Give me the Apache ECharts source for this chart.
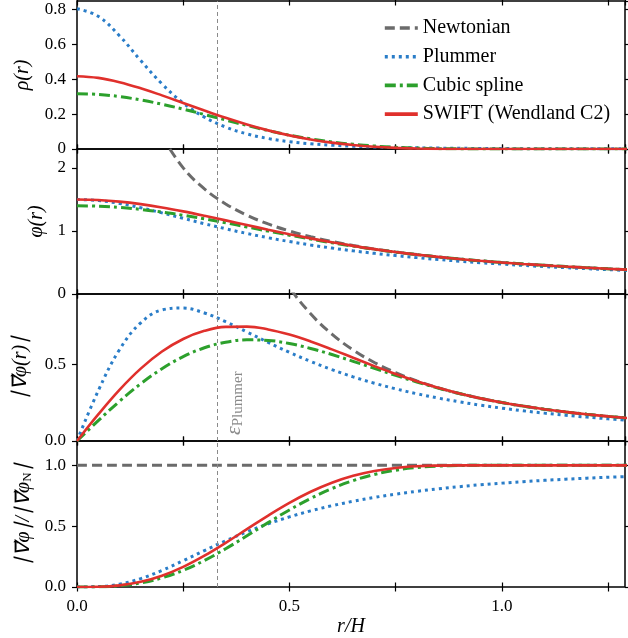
<!DOCTYPE html>
<html>
<head>
<meta charset="utf-8">
<script src="https://cdn.jsdelivr.net/npm/echarts@6/dist/echarts.min.js"></script>
<style>
  html, body { margin: 0; padding: 0; background: #fff; }
  #chart { width: 628px; height: 638px; }
</style>
</head>
<body>
<div id="chart"></div>
<script>
// r/H sample points
var xs = [0, 0.05, 0.1, 0.15, 0.2, 0.25, 0.3, 0.35, 0.4, 0.45, 0.5, 0.55, 0.6, 0.65,
  0.7, 0.75, 0.8, 0.85, 0.9, 0.95, 1.0, 1.05, 1.1, 1.15, 1.2, 1.25, 1.3];
var epsPlummer = 0.333;

// density
var rhoPlummer = [0.806, 0.762, 0.650, 0.508, 0.374, 0.264, 0.183, 0.126, 0.0866, 0.0602, 0.0423, 0.0301, 0.0218, 0.0159,
  0.0118, 0.0089, 0.0068, 0.0052, 0.0041, 0.0032, 0.0025, 0.0016, 0.0014, 0.0011, 0.0009, 0.0008, 0.0007];
var rhoSpline = [0.318, 0.3138, 0.3011, 0.2818, 0.2572, 0.2288, 0.1980, 0.1662, 0.1350, 0.1056, 0.0796, 0.0580, 0.0407, 0.0273,
  0.0172, 0.0099, 0.0051, 0.0021, 0.0006, 0.0001, 0, 0, 0, 0, 0, 0, 0];
var rhoWendland = [0.418, 0.4084, 0.3838, 0.3490, 0.3080, 0.2644, 0.2207, 0.1790, 0.1408, 0.1070, 0.0783, 0.0548, 0.0364, 0.0226,
  0.0129, 0.0065, 0.0028, 0.0009, 0.0002, 0, 0, 0, 0, 0, 0, 0, 0];

// potential
var phiNewton = [null, null, null, null, 2.5, 2.0, 1.667, 1.429, 1.25, 1.111, 1.0, 0.909, 0.833, 0.769,
  0.714, 0.667, 0.625, 0.588, 0.556, 0.526, 0.5, 0.476, 0.455, 0.435, 0.417, 0.4, 0.385];
var phiPlummer = [1.5, 1.4834, 1.4367, 1.3679, 1.2862, 1.2, 1.1149, 1.0345, 0.9603, 0.8928, 0.8321, 0.7775, 0.7285, 0.6845,
  0.6449, 0.6092, 0.5769, 0.5476, 0.5210, 0.4966, 0.4743, 0.4539, 0.4350, 0.4176, 0.4015, 0.3865, 0.3726];
var phiSpline = [1.4, 1.3934, 1.3738, 1.3422, 1.3000, 1.2490, 1.1911, 1.1286, 1.0634, 0.9978, 0.9333, 0.8715, 0.8133, 0.7593,
  0.7098, 0.6649, 0.6244, 0.5881, 0.5555, 0.5263, 0.5, 0.476, 0.455, 0.435, 0.417, 0.4, 0.385];
var phiWendland = [1.5, 1.4913, 1.4659, 1.4256, 1.3728, 1.3103, 1.2412, 1.1681, 1.0937, 1.0201, 0.9492, 0.8822, 0.8201, 0.7633,
  0.7119, 0.6659, 0.6248, 0.5882, 0.5556, 0.5263, 0.5, 0.476, 0.455, 0.435, 0.417, 0.4, 0.385];

// gradient of the potential
var gradNewton = [null, null, null, null, null, null, null, null, null, 1.2346, 1.0, 0.8264, 0.6944, 0.5917,
  0.5102, 0.4444, 0.3906, 0.3460, 0.3086, 0.2770, 0.25, 0.2268, 0.2066, 0.1890, 0.1736, 0.16, 0.1479];
var gradPlummer = [0, 0.3264, 0.5932, 0.7678, 0.8512, 0.8640, 0.8316, 0.7749, 0.7084, 0.6405, 0.5760, 0.5169, 0.4639, 0.4169,
  0.3755, 0.3391, 0.3072, 0.2792, 0.2545, 0.2327, 0.2135, 0.1963, 0.1811, 0.1675, 0.1553, 0.1443, 0.1345];
var gradSpline = [0, 0.1322, 0.2579, 0.3717, 0.4693, 0.5479, 0.6056, 0.6418, 0.6571, 0.6533, 0.6333, 0.6014, 0.5617, 0.5176,
  0.4718, 0.4266, 0.3836, 0.3438, 0.3082, 0.2770, 0.25, 0.2268, 0.2066, 0.1890, 0.1736, 0.16, 0.1479];
var gradWendland = [0, 0.1726, 0.3323, 0.4702, 0.5811, 0.6629, 0.7157, 0.7413, 0.7431, 0.7250, 0.6914, 0.6468, 0.5953, 0.5409,
  0.4866, 0.4349, 0.3875, 0.3453, 0.3085, 0.2770, 0.25, 0.2268, 0.2066, 0.1890, 0.1736, 0.16, 0.1479];

// ratio to the Newtonian gradient
var ratioNewton = [1, 1, 1, 1, 1, 1, 1, 1, 1, 1, 1, 1, 1, 1, 1, 1, 1, 1, 1, 1, 1, 1, 1, 1, 1, 1, 1];
var ratioPlummer = [0, 0.0033, 0.0237, 0.0691, 0.1362, 0.216, 0.2994, 0.3797, 0.4534, 0.5189, 0.5760, 0.6255, 0.6680, 0.7045,
  0.7360, 0.7631, 0.7865, 0.8069, 0.8246, 0.8402, 0.8538, 0.8659, 0.8765, 0.8860, 0.8945, 0.9021, 0.9089];
var ratioSpline = [0, 0.0013, 0.0103, 0.0335, 0.0751, 0.1370, 0.2180, 0.3145, 0.4205, 0.5292, 0.6333, 0.7277, 0.8089, 0.8747,
  0.9247, 0.9599, 0.9820, 0.9936, 0.9986, 1.0, 1, 1, 1, 1, 1, 1, 1];
var ratioWendland = [0, 0.0017, 0.0133, 0.0423, 0.0930, 0.1657, 0.2576, 0.3633, 0.4756, 0.5873, 0.6914, 0.7826, 0.8573, 0.9141,
  0.9537, 0.9785, 0.9919, 0.9978, 0.9997, 1.0, 1, 1, 1, 1, 1, 1, 1];

var names = ['Newtonian', 'Plummer', 'Cubic spline', 'SWIFT (Wendland C2)'];
var colors = ['#6b6b6b', '#2a7dc8', '#2ca02c', '#e0302c'];
var dashes = [[10, 5], [3, 4], [11, 4, 3, 4], 'solid'];
var widths = [3, 3, 3, 2.6];

var yMax = [0.85, 2.3, 0.955, 1.2];
var yInterval = [0.2, 1, 0.5, 0.5];
var yDigits = [1, 0, 1, 1];
var gridTop = [1, 149, 294, 441];
var gridHeight = [148, 145, 147, 146];
var yNames = [
  '{i|ρ(r)}',
  '{i|φ(r)}',
  '{i|∣∇⃗φ(r)∣}',
  '{i|∣∇⃗φ∣/∣∇⃗φ}{s|N}{i|∣}'
];
var yNameGap = [44, 30, 46, 38];

var serif = 'Liberation Serif';
var echart = echarts.init(document.getElementById('chart'));

function pair(ys) {
  return xs.map(function(x, i) {
    return [x, ys[i] === null ? '-' : ys[i]];
  });
}

var grids = [], xAxes = [], yAxes = [], series = [];
for (var g = 0; g < 4; g++) {
  grids.push({
    left: 77, width: 548, top: gridTop[g], height: gridHeight[g],
    show: true, borderColor: '#000', borderWidth: 1.5, backgroundColor: 'transparent'
  });
  ['bottom', 'top'].forEach(function(pos) {
    var showLabel = g === 3 && pos === 'bottom';
    xAxes.push({
      type: 'value', gridIndex: g, position: pos, min: 0, max: 1.29, interval: 0.25,
      offset: -4.5,
      axisLine: { show: false, onZero: false },
      axisTick: { show: true, inside: false, length: 9, lineStyle: { color: '#000', width: 1.2 } },
      splitLine: { show: false },
      axisLabel: {
        show: showLabel, margin: 16, color: '#000', fontFamily: serif, fontSize: 17,
        showMaxLabel: false,
        formatter: function(v) { return Math.abs(v / 0.5 - Math.round(v / 0.5)) < 1e-6 ? v.toFixed(1) : ''; }
      },
      name: showLabel ? 'r/H' : '',
      nameLocation: 'middle', nameGap: 24,
      nameTextStyle: { fontFamily: serif, fontStyle: 'italic', fontSize: 20, color: '#000' }
    });
  });
  (function(g) {
    ['left', 'right'].forEach(function(pos) {
      var left = pos === 'left';
      yAxes.push({
        type: 'value', gridIndex: g, position: pos, min: 0, max: yMax[g], interval: yInterval[g],
        axisLine: { show: false, onZero: false },
        axisTick: { show: true, inside: false, length: left ? 5 : 4, lineStyle: { color: '#000', width: 1.2 } },
        splitLine: { show: false },
        axisLabel: {
          show: left, margin: 11, color: '#000', fontFamily: serif, fontSize: 17, showMaxLabel: false,
          formatter: function(v) { return v === 0 && g === 0 ? '0' : v.toFixed(yDigits[g]); }
        },
        name: left ? yNames[g] : '',
        nameLocation: 'middle', nameGap: yNameGap[g], nameRotate: 90,
        nameTextStyle: {
          color: '#000',
          rich: {
            i: { fontFamily: serif, fontStyle: 'italic', fontSize: 20, color: '#000' },
            s: { fontFamily: serif, fontStyle: 'normal', fontSize: 13, color: '#000', padding: [8, 0, 0, 0] }
          }
        }
      });
    });
  })(g);
}

var panelData = [
  [null, rhoPlummer, rhoSpline, rhoWendland],
  [phiNewton, phiPlummer, phiSpline, phiWendland],
  [gradNewton, gradPlummer, gradSpline, gradWendland],
  [ratioNewton, ratioPlummer, ratioSpline, ratioWendland]
];

for (var p = 0; p < 4; p++) {
  for (var k = 0; k < 4; k++) {
    if (!panelData[p][k]) continue;
    var s = {
      name: names[k], type: 'line', xAxisIndex: p * 2, yAxisIndex: p * 2,
      data: pair(panelData[p][k]), smooth: 0.4, symbol: 'none', showSymbol: false, clip: true,
      lineStyle: { color: colors[k], width: widths[k], type: dashes[k], cap: 'butt' },
      itemStyle: { color: colors[k] },
      z: 2 + k, silent: true
    };
    if (k === 3) {
      s.markLine = {
        silent: true, symbol: 'none',
        lineStyle: { color: '#8a8a8a', width: 1, type: [4, 3] },
        data: [{ xAxis: epsPlummer }],
        label: p === 2 ? {
          show: true, position: 'insideStartBottom', distance: 6,
          formatter: '{e|ε}{s|Plummer}',
          rich: {
            e: { fontFamily: serif, fontStyle: 'italic', fontSize: 22, color: '#8a8a8a' },
            s: { fontFamily: serif, fontSize: 15, color: '#8a8a8a', padding: [7, 0, 0, 0] }
          }
        } : { show: false }
      };
    }
    series.push(s);
  }
}

var legendData = names.map(function(n, k) {
  return { name: n, lineStyle: { width: 3.6, type: dashes[k], color: colors[k] } };
});

var option = {
  animation: false,
  backgroundColor: '#fff',
  grid: grids,
  xAxis: xAxes,
  yAxis: yAxes,
  legend: {
    data: legendData, orient: 'vertical', left: 383, top: 18,
    itemWidth: 33, itemHeight: 12, itemGap: 8.7, padding: 0,
    itemStyle: { opacity: 0 },
    textStyle: { fontFamily: serif, fontSize: 20, color: '#000', lineHeight: 20 },
    selectedMode: false
  },
  series: series
};
echart.setOption(option);
</script>
</body>
</html>
